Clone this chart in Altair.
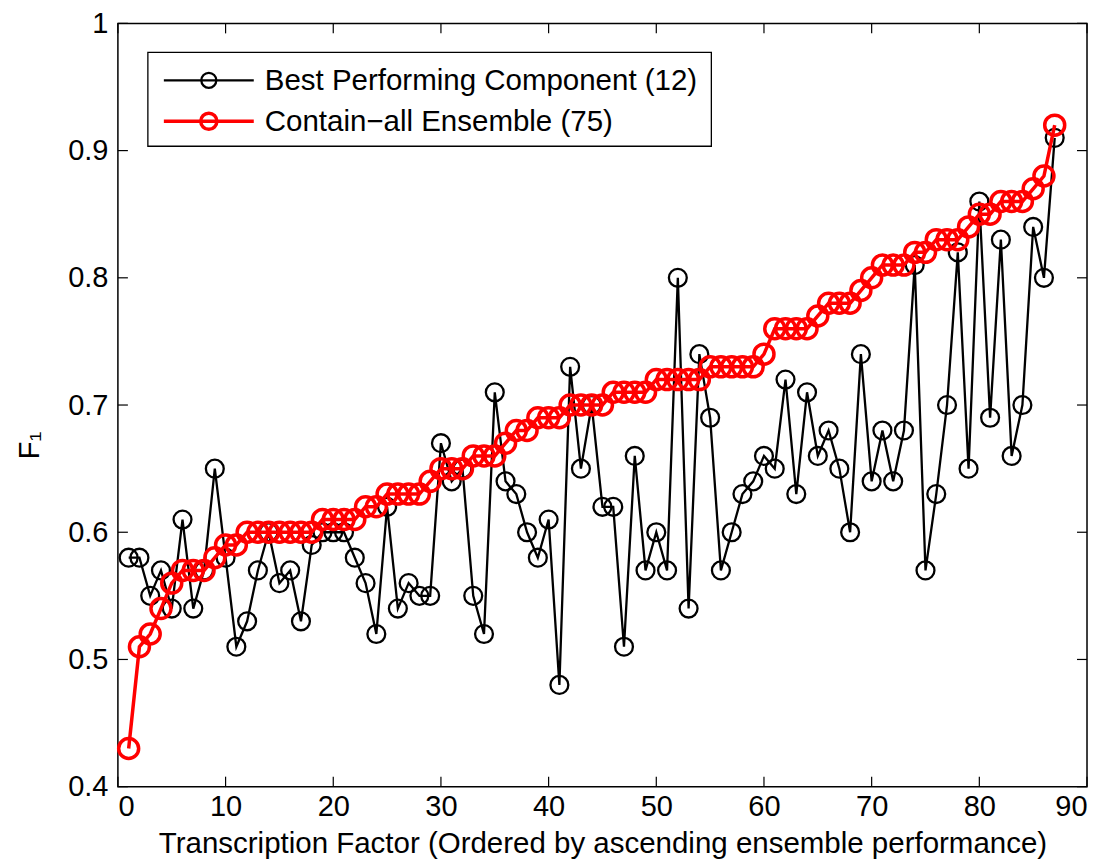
import altair as alt
import pandas as pd

# ---- data ----
tf_index = list(range(1, 88))
best_component = [
    0.58, 0.58, 0.55, 0.57, 0.54, 0.61, 0.54, 0.57, 0.65, 0.58,
    0.51, 0.53, 0.57, 0.60, 0.56, 0.57, 0.53, 0.59, 0.60, 0.60,
    0.60, 0.58, 0.56, 0.52, 0.62, 0.54, 0.56, 0.55, 0.55, 0.67,
    0.64, 0.65, 0.55, 0.52, 0.71, 0.64, 0.63, 0.60, 0.58, 0.61,
    0.48, 0.73, 0.65, 0.70, 0.62, 0.62, 0.51, 0.66, 0.57, 0.60,
    0.57, 0.80, 0.54, 0.74, 0.69, 0.57, 0.60, 0.63, 0.64, 0.66,
    0.65, 0.72, 0.63, 0.71, 0.66, 0.68, 0.65, 0.60, 0.74, 0.64,
    0.68, 0.64, 0.68, 0.81, 0.57, 0.63, 0.70, 0.82, 0.65, 0.86,
    0.69, 0.83, 0.66, 0.70, 0.84, 0.80, 0.91,
]
ensemble = [
    0.43, 0.51, 0.52, 0.54, 0.56, 0.57, 0.57, 0.57, 0.58, 0.59,
    0.59, 0.60, 0.60, 0.60, 0.60, 0.60, 0.60, 0.60, 0.61, 0.61,
    0.61, 0.61, 0.62, 0.62, 0.63, 0.63, 0.63, 0.63, 0.64, 0.65,
    0.65, 0.65, 0.66, 0.66, 0.66, 0.67, 0.68, 0.68, 0.69, 0.69,
    0.69, 0.70, 0.70, 0.70, 0.70, 0.71, 0.71, 0.71, 0.71, 0.72,
    0.72, 0.72, 0.72, 0.72, 0.73, 0.73, 0.73, 0.73, 0.73, 0.74,
    0.76, 0.76, 0.76, 0.76, 0.77, 0.78, 0.78, 0.78, 0.79, 0.80,
    0.81, 0.81, 0.81, 0.82, 0.82, 0.83, 0.83, 0.83, 0.84, 0.85,
    0.85, 0.86, 0.86, 0.86, 0.87, 0.88, 0.92,
]
x_ticks = [0, 10, 20, 30, 40, 50, 60, 70, 80, 90]
y_ticks = [0.4, 0.5, 0.6, 0.7, 0.8, 0.9, 1.0]
legend_labels = ["Best Performing Component (12)", "Contain\u2212all Ensemble (75)"]

FONT = "Liberation Sans"
FS = 29
FS_T = 29.5
W, H = 970, 764

df_best = pd.DataFrame({"tf": tf_index, "f1": best_component})
df_ens = pd.DataFrame({"tf": tf_index, "f1": ensemble})
df_xt = pd.DataFrame({"tf": x_ticks})
df_yt = pd.DataFrame({"f1": y_ticks})
one = pd.DataFrame({"k": [0]})

xs = alt.Scale(domain=[0, 90], nice=False)
ys = alt.Scale(domain=[0.4, 1.0], nice=False, zero=False)

x_axis = alt.Axis(
    values=x_ticks, ticks=False, domain=False, grid=False,
    labelFont=FONT, labelFontSize=FS, labelColor="black", labelPadding=6,
    title="Transcription Factor (Ordered by ascending ensemble performance)",
    titleFont=FONT, titleFontSize=FS_T, titleFontWeight="normal", titleColor="black",
    titleBaseline="alphabetic", titleY=66,
)
y_axis = alt.Axis(
    values=y_ticks, ticks=False, domain=False, grid=False,
    labelExpr="datum.value == 1 ? '1' : format(datum.value, '.1f')",
    labelFont=FONT, labelFontSize=FS, labelColor="black", labelPadding=10,
    title="F\u2081", titleFont=FONT, titleFontSize=FS_T, titleFontWeight="normal",
    titleColor="black", titleAngle=270, titleX=-88, titleY=422,
    titleAlign="center", titleBaseline="middle",
)

X = alt.X("tf:Q", scale=xs, axis=x_axis)
Y = alt.Y("f1:Q", scale=ys, axis=y_axis)

best_line = alt.Chart(df_best).mark_line(color="black", strokeWidth=2.3).encode(x=X, y=Y)
best_pts = alt.Chart(df_best).mark_point(
    shape="circle", filled=False, color="black", size=320, strokeWidth=2.3, opacity=1
).encode(x=X, y=Y)
ens_line = alt.Chart(df_ens).mark_line(color="#ff0000", strokeWidth=3.5).encode(x=X, y=Y)
ens_pts = alt.Chart(df_ens).mark_point(
    shape="circle", filled=False, color="#ff0000", size=400, strokeWidth=3.5, opacity=1
).encode(x=X, y=Y)

# inward ticks on all four sides (MATLAB box style)
tick_bottom = alt.Chart(df_xt).mark_rule(color="black", strokeWidth=1.2).encode(
    x=X, y=alt.value(H), y2=alt.value(H - 10))
tick_top = alt.Chart(df_xt).mark_rule(color="black", strokeWidth=1.2).encode(
    x=X, y=alt.value(0), y2=alt.value(10))
tick_left = alt.Chart(df_yt).mark_rule(color="black", strokeWidth=1.2).encode(
    y=Y, x=alt.value(0), x2=alt.value(10))
tick_right = alt.Chart(df_yt).mark_rule(color="black", strokeWidth=1.2).encode(
    y=Y, x=alt.value(W), x2=alt.value(W - 10))

# legend
leg_box = alt.Chart(one).mark_rect(fill="white", stroke="black", strokeWidth=1.3).encode(
    x=alt.value(30), x2=alt.value(594), y=alt.value(29), y2=alt.value(123))
leg_layers = []
for label, color, sw, sz, yy in [
    (legend_labels[0], "black", 2.3, 225, 57),
    (legend_labels[1], "#ff0000", 3.5, 260, 98),
]:
    leg_layers.append(alt.Chart(one).mark_rule(color=color, strokeWidth=sw).encode(
        x=alt.value(46), x2=alt.value(136), y=alt.value(yy)))
    leg_layers.append(alt.Chart(one).mark_point(
        shape="circle", filled=False, color=color, size=sz, strokeWidth=sw, opacity=1
    ).encode(x=alt.value(91), y=alt.value(yy)))
    leg_layers.append(alt.Chart(one).mark_text(
        align="left", baseline="middle", font=FONT, fontSize=FS_T, color="black"
    ).encode(x=alt.value(147), y=alt.value(yy + 1), text=alt.value(label)))

chart = alt.layer(
    best_line, best_pts, ens_line, ens_pts,
    tick_bottom, tick_top, tick_left, tick_right,
    leg_box, *leg_layers,
).properties(
    width=W, height=H,
    autosize=alt.AutoSizeParams(type="none"),
    padding={"left": 110, "top": 15, "right": 10, "bottom": 75},
    background="white",
).configure_view(stroke="black", strokeWidth=1.5)

chart.save("out.html", embed_options={"renderer": "svg", "actions": False})
